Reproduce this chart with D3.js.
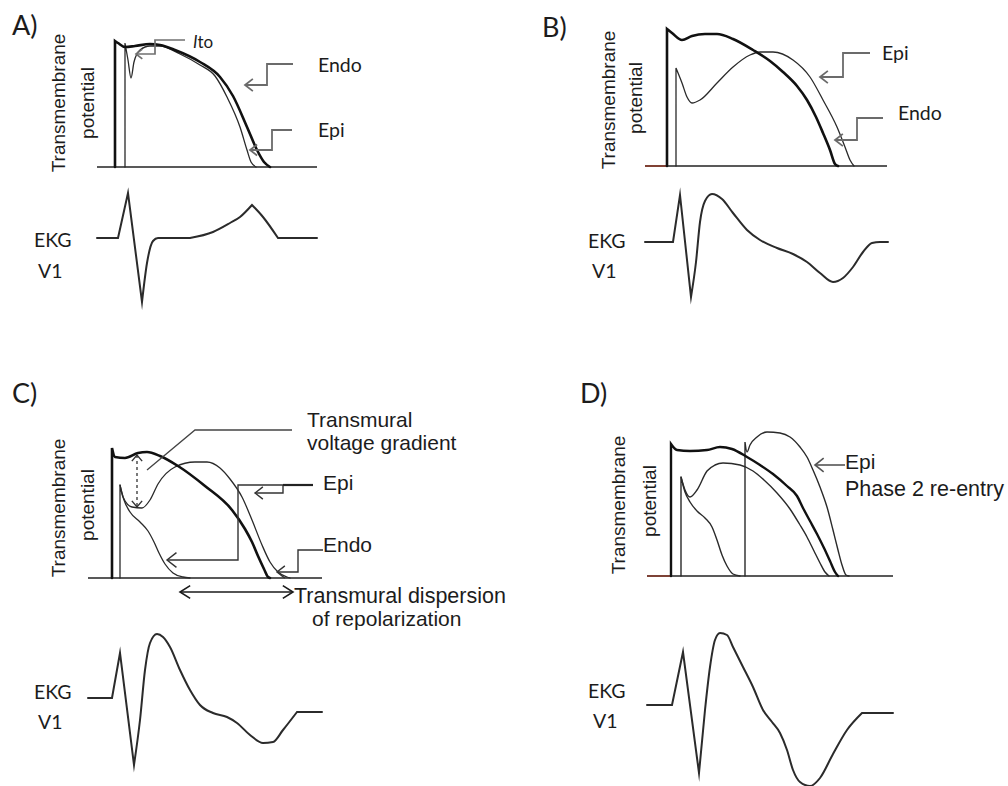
<!DOCTYPE html>
<html><head><meta charset="utf-8">
<script src="https://cdn.jsdelivr.net/npm/d3@7"></script>
<style>body{margin:0;background:#fff}</style>
</head><body>
<svg id="c" width="1008" height="786"></svg>
<script>
// ---------- DATA (time in ms, potential in mV, EKG in mV) ----------
// Panel A
const baseA = [[0,-85],[440,-85]];
const apA_endo = [[36,-85],[36,41],[42,39],[56,35],[76,36],[106,38],[126,37],[156,32],[206,20],[246,5],[272,-14],[300,-45],[320,-68],[334,-80],[346,-85]];
const apA_epi = [[56,-85],[56,39],[62,22],[68,4],[74,20],[86,32],[106,36],[126,36],[166,28],[206,17],[236,6],[260,-15],[286,-45],[300,-68],[308,-80],[318,-85]];
const leadA_ito = [[176,42],[116,42],[116,28],[78,28]];
const leadA_endo = [[392,18],[340,18],[340,-3],[296,-3]];
const leadA_epi = [[390,-48],[350,-48],[350,-68],[306,-68]];
const ekgA = [[0,0],[42,0],[62,0.9],[90,-1.28],[100,-0.5],[112,-0.06],[122,0],[186,0],[232,0.12],[266,0.3],[286,0.42],[310,0.66],[332,0.42],[362,0],[440,0]];
const ekgA_corners = [1,2,3,7,11,13];

// Panel B
const baseB = [[0,-85],[484,-85]];
const baseB_lead = [[0,-85],[44,-85]];
const apB_endo = [[44,-85],[44,52],[54,48],[74,41],[94,45],[120,47],[144,47],[176,42],[216,31],[250,20],[276,9],[304,-5],[324,-19],[342,-36],[356,-52],[370,-69],[380,-83],[386,-85]];
const apB_epi = [[62,-85],[62,13],[74,-2],[84,-16],[94,-22],[110,-19],[144,-2],[176,14],[210,26],[230,29],[256,29],[296,21],[330,4],[356,-19],[384,-46],[400,-66],[410,-79],[418,-85]];
const leadB_epi = [[450,28],[396,28],[396,4],[350,4]];
const leadB_endo = [[476,-37],[424,-37],[424,-59],[380,-59]];
const ekgB = [[0,0],[56,0],[70,0.94],[92,-1.1],[102,-0.4],[110,0.4],[120,0.82],[134,0.96],[154,0.86],[176,0.58],[204,0.24],[230,0.04],[264,-0.12],[296,-0.24],[324,-0.4],[350,-0.62],[376,-0.8],[396,-0.72],[416,-0.5],[436,-0.2],[454,-0.02],[470,0],[486,0]];
const ekgB_corners = [1,2,3];

// Panel C
const baseC = [[0,-85],[468,-85]];
const apC_endo = [[48,-85],[48,45],[54,36],[74,35],[100,40],[118,41],[144,37],[180,27],[234,7],[288,-17],[314,-36],[328,-49],[340,-63],[352,-76],[360,-84],[364,-85]];
const apC_dome = [[64,-85],[64,8],[70,-4],[88,-14],[108,-15],[124,-7],[140,9],[174,26],[214,31],[238,31],[264,25],[284,14],[308,-4],[328,-27],[348,-52],[364,-69],[380,-79],[398,-84],[404,-85]];
const apC_lod = [[64,8],[72,-7],[84,-19],[104,-29],[120,-38],[132,-49],[142,-60],[154,-71],[170,-80],[190,-84],[204,-85]];
const leadC_epi1 = [[450,8],[300,8],[300,-67],[158,-67]];
const leadC_epi2 = [[390,8],[390,0],[334,0]];
const leadC_endo = [[470,-57],[420,-57],[420,-79],[378,-79]];
const leadC_grad = [[408,63],[214,63],[118,23]];
const gradArrow = [[98,38],[98,-14]];
const dispArrow = [[184,-99],[410,-99]];
const ekgC = [[0,0],[48,0],[64,0.9],[92,-1.34],[104,-0.44],[114,0.56],[124,1.1],[138,1.28],[150,1.22],[164,1.02],[184,0.56],[204,0.16],[224,-0.14],[250,-0.3],[278,-0.38],[298,-0.5],[324,-0.74],[350,-0.9],[370,-0.88],[390,-0.64],[418,-0.28],[468,-0.28]];
const ekgC_corners = [1,2,3,20];

// Panel D
const baseD = [[0,-85],[492,-85]];
const baseD_lead = [[0,-85],[48,-85]];
const apD_endo = [[48,-85],[48,47],[60,41],[86,40],[120,41],[146,44],[170,42],[200,34],[226,26],[252,17],[280,5],[300,-5],[312,-17],[326,-30],[340,-43],[354,-57],[366,-70],[376,-81],[382,-85]];
const apD_dome = [[68,-85],[68,14],[76,1],[86,-6],[100,1],[120,20],[136,26],[152,28],[186,26],[212,20],[234,11],[260,-2],[286,-18],[306,-34],[320,-46],[334,-60],[346,-72],[356,-81],[364,-85]];
const apD_lod = [[68,14],[76,-1],[86,-11],[100,-20],[116,-27],[130,-36],[140,-49],[150,-64],[160,-75],[172,-83],[186,-85]];
const apD_reentry = [[196,-85],[196,49],[200,39],[206,46],[220,54],[240,59],[266,58],[286,54],[306,44],[320,34],[332,21],[346,4],[360,-16],[372,-39],[382,-59],[390,-74],[398,-84],[404,-85]];
const leadD_epi = [[396,26],[336,26]];
const ekgD = [[0,0],[50,0],[72,1.06],[104,-1.36],[116,-0.1],[126,0.76],[136,1.3],[146,1.44],[160,1.4],[172,1.16],[192,0.76],[212,0.36],[232,-0.1],[250,-0.34],[266,-0.56],[280,-0.9],[292,-1.3],[306,-1.54],[326,-1.62],[346,-1.46],[372,-0.98],[400,-0.5],[430,-0.16],[492,-0.16]];
const ekgD_corners = [1,2,3,22];

// ---------- DRAWING ----------
const ARIAL = "'Liberation Sans', Arial, sans-serif";
const CAL = "Lato, 'Open Sans', sans-serif";
const svg = d3.select('#c');
svg.append('rect').attr('width',1008).attr('height',786).attr('fill','#fff');

function apScales(x0,y0){
  return { x: d3.scaleLinear().domain([0,500]).range([x0,x0+250]),
           y: d3.scaleLinear().domain([-85,65]).range([y0,y0-150]) };
}
function ekgScales(x0,y0){
  return { x: d3.scaleLinear().domain([0,500]).range([x0,x0+250]),
           y: d3.scaleLinear().domain([-2,2]).range([y0+100,y0-100]) };
}
function apPath(s, pts, hasUp){
  const mono = d3.line().x(d=>s.x(d[0])).y(d=>s.y(d[1])).curve(d3.curveMonotoneX);
  if(!hasUp) return mono(pts);
  const up = d3.line().x(d=>s.x(d[0])).y(d=>s.y(d[1]))(pts.slice(0,2));
  return up + mono(pts.slice(1)).replace(/^M[^A-Za-z]*/, '');
}
function drawAP(s, pts, hasUp, w, col){
  svg.append('path').attr('d', apPath(s, pts, hasUp)).attr('fill','none')
    .attr('stroke', col||'#1a1a1a').attr('stroke-width', w)
    .attr('stroke-linejoin','miter').attr('stroke-linecap','round');
}
function drawLine(s, pts, w, col, dash){
  const p = svg.append('path').attr('d', d3.line().x(d=>s.x(d[0])).y(d=>s.y(d[1]))(pts))
    .attr('fill','none').attr('stroke', col).attr('stroke-width', w)
    .attr('stroke-linejoin','miter');
  if(dash) p.attr('stroke-dasharray', dash);
  return p;
}
function arrowHead(tip, from, len, ang, w, col){
  let dx = from[0]-tip[0], dy = from[1]-tip[1];
  const L = Math.hypot(dx,dy); dx/=L; dy/=L;
  const a = ang*Math.PI/180;
  const r = (c,s)=>[tip[0]+len*(dx*c - dy*s), tip[1]+len*(dx*s + dy*c)];
  const p1 = r(Math.cos(a), Math.sin(a)), p2 = r(Math.cos(-a), Math.sin(-a));
  svg.append('path').attr('d', `M${p1[0]},${p1[1]}L${tip[0]},${tip[1]}L${p2[0]},${p2[1]}`)
    .attr('fill','none').attr('stroke',col).attr('stroke-width',w).attr('stroke-linejoin','miter');
}
function leader(s, pts, w, col, arrow, len){
  drawLine(s, pts, w, col);
  if(arrow){
    const n = pts.length;
    const tip = [s.x(pts[n-1][0]), s.y(pts[n-1][1])];
    const from = [s.x(pts[n-2][0]), s.y(pts[n-2][1])];
    arrowHead(tip, from, len||9, 38, w, col);
  }
}
// EKG: smooth (monotone) pieces joined at sharp corner points
function drawEKG(s, pts, corners){
  const mono = d3.line().x(d=>s.x(d[0])).y(d=>s.y(d[1])).curve(d3.curveMonotoneX);
  const cuts = [0, ...corners, pts.length-1];
  let d = '';
  for(let i=0;i<cuts.length-1;i++){
    const seg = mono(pts.slice(cuts[i], cuts[i+1]+1));
    d += i===0 ? seg : seg.replace(/^M[^A-Za-z]*/, '');
  }
  svg.append('path').attr('d', d)
    .attr('fill','none').attr('stroke','#2b2b2b').attr('stroke-width',2)
    .attr('stroke-linejoin','miter').attr('stroke-miterlimit',10).attr('stroke-linecap','round');
}
function txt(x,y,str,font,size,opt){
  opt = opt||{};
  const t = svg.append('text').attr('x',x).attr('y',y).text(str)
    .attr('font-family',font).attr('font-size',size).attr('fill', opt.fill||'#1c1c1c');
  if(opt.rot){ t.attr('transform',`rotate(-90,${x},${y})`).attr('text-anchor','middle'); }
  return t;
}

// ---- Panel A ----
{
  const s = apScales(97,167), e = ekgScales(97,238);
  drawLine(s, baseA, 1.6, '#222');
  drawAP(s, apA_epi, true, 1.3, '#2a2a2a');
  drawAP(s, apA_endo, true, 2.6, '#111');
  leader(s, leadA_ito, 1.7, '#707070', true, 8);
  leader(s, leadA_endo, 1.8, '#6b6b6b', true, 10);
  leader(s, leadA_epi, 1.8, '#6b6b6b', true, 9);
  drawEKG(e, ekgA, ekgA_corners);
  txt(12,35,'A)',CAL,27);
  txt(65,103,'Transmembrane',ARIAL,19,{rot:true});
  txt(94,103,'potential',ARIAL,19,{rot:true});
  const ito = txt(193,48,'',CAL,17);
  ito.append('tspan').attr('font-style','italic').text('I');
  ito.append('tspan').text('to');
  txt(318,72,'Endo',CAL,19.5);
  txt(318,137,'Epi',CAL,19.5);
  txt(34,247,'EKG',CAL,19.5);
  txt(38,278,'V1',CAL,19.5);
}
// ---- Panel B ----
{
  const s = apScales(645,166), e = ekgScales(645,242);
  drawLine(s, baseB, 1.6, '#222');
  drawLine(s, baseB_lead, 1.6, '#8a3b2b');
  drawAP(s, apB_epi, true, 1.3, '#2a2a2a');
  drawAP(s, apB_endo, true, 2.6, '#111');
  leader(s, leadB_epi, 1.8, '#6b6b6b', true, 10);
  leader(s, leadB_endo, 1.8, '#6b6b6b', true, 10);
  drawEKG(e, ekgB, ekgB_corners);
  txt(542,37,'B)',CAL,27);
  txt(615,100,'Transmembrane',ARIAL,19,{rot:true});
  txt(642,98,'potential',ARIAL,19,{rot:true});
  txt(882,60,'Epi',CAL,19.5);
  txt(898,120,'Endo',CAL,19.5);
  txt(588,248,'EKG',CAL,19.5);
  txt(592,278,'V1',CAL,19.5);
}
// ---- Panel C ----
{
  const s = apScales(88,578), e = ekgScales(88,698);
  drawLine(s, baseC, 1.5, '#222');
  drawAP(s, apC_lod, false, 1.3, '#2a2a2a');
  drawAP(s, apC_dome, true, 1.3, '#2a2a2a');
  drawAP(s, apC_endo, true, 2.6, '#111');
  leader(s, leadC_grad, 1.3, '#444', false);
  leader(s, leadC_epi1, 1.4, '#333', true, 12);
  leader(s, leadC_epi2, 1.4, '#333', true, 10);
  drawLine(s, [[390,8],[450,8]], 2.2, '#222');
  leader(s, leadC_endo, 1.4, '#333', true, 10);
  drawLine(s, gradArrow, 1.3, '#333', '3,3');
  {
    const a = [s.x(gradArrow[0][0]), s.y(gradArrow[0][1])], b = [s.x(gradArrow[1][0]), s.y(gradArrow[1][1])];
    arrowHead(a, b, 8, 40, 1.4, '#333'); arrowHead(b, a, 8, 40, 1.4, '#333');
  }
  drawLine(s, dispArrow, 1.5, '#1a1a1a');
  {
    const a = [s.x(dispArrow[0][0]), s.y(dispArrow[0][1])], b = [s.x(dispArrow[1][0]), s.y(dispArrow[1][1])];
    arrowHead(a, b, 12, 32, 1.6, '#1a1a1a'); arrowHead(b, a, 12, 32, 1.6, '#1a1a1a');
  }
  drawEKG(e, ekgC, ekgC_corners);
  txt(12,403,'C)',CAL,27);
  txt(65,508,'Transmembrane',ARIAL,19,{rot:true});
  txt(94,505,'potential',ARIAL,19,{rot:true});
  txt(307,427,'Transmural',ARIAL,21);
  txt(307,450,'voltage gradient',ARIAL,21);
  txt(323,490,'Epi',ARIAL,21);
  txt(323,552,'Endo',ARIAL,21);
  txt(294,603,'Transmural dispersion',ARIAL,21.5);
  txt(312,626,'of repolarization',ARIAL,21);
  txt(34,699,'EKG',CAL,19.5);
  txt(38,729,'V1',CAL,19.5);
}
// ---- Panel D ----
{
  const s = apScales(647,576), e = ekgScales(647,705);
  drawLine(s, baseD, 1.5, '#222');
  drawLine(s, baseD_lead, 1.5, '#8a3b2b');
  drawAP(s, apD_lod, false, 1.4, '#2a2a2a');
  drawAP(s, apD_dome, true, 1.4, '#2a2a2a');
  drawAP(s, apD_reentry, true, 1.4, '#2a2a2a');
  drawAP(s, apD_endo, true, 2.4, '#111');
  leader(s, leadD_epi, 1.6, '#555', true, 11);
  drawEKG(e, ekgD, ekgD_corners);
  txt(580,403,'D)',CAL,27);
  txt(625,505,'Transmembrane',ARIAL,19,{rot:true});
  txt(656,501,'potential',ARIAL,19,{rot:true});
  txt(845,469,'Epi',ARIAL,21);
  txt(845,496,'Phase 2 re-entry',ARIAL,21.5);
  txt(588,698,'EKG',CAL,19.5);
  txt(593,728,'V1',CAL,19.5);
}
</script>
</body></html>
